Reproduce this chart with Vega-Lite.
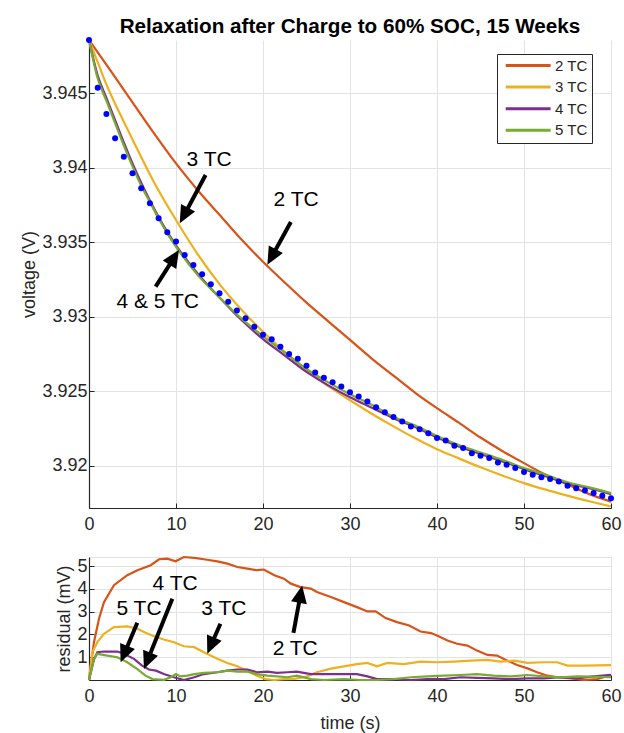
{
  "$schema": "https://vega.github.io/schema/vega-lite/v6.json",
  "autosize": {"type": "pad"},
  "padding": {"left": 20, "top": 15, "right": 0, "bottom": 0},
  "background": "white",
  "spacing": 49,
  "bounds": "flush",
  "resolve": {"scale": {"color": "independent"}},
  "config": {
    "font": "Liberation Sans",
    "view": {"stroke": null},
    "axis": {
      "labelFont": "Liberation Sans", "labelFontSize": 18, "labelColor": "#262626",
      "titleFont": "Liberation Sans", "titleFontSize": 18, "titleFontWeight": "normal", "titleColor": "#262626",
      "domainColor": "#262626", "domainWidth": 1.2, "tickColor": "#262626", "tickSize": -5,
      "gridColor": "#e3e3e3", "labelOverlap": false, "labelFlush": false
    },
    "axisX": {"labelPadding": 12.5, "titlePadding": 9},
    "axisY": {"labelPadding": 7, "titlePadding": 3}
  },
  "datasets": {
    "fits": [
      {"m": "2 TC", "t": 0, "v": 3.94858}, {"m": "2 TC", "t": 2.5, "v": 3.9465}, {"m": "2 TC", "t": 5, "v": 3.9444}, {"m": "2 TC", "t": 7.5, "v": 3.9423}, {"m": "2 TC", "t": 10, "v": 3.9403}, {"m": "2 TC", "t": 12.5, "v": 3.9385}, {"m": "2 TC", "t": 15, "v": 3.93685}, {"m": "2 TC", "t": 17.5, "v": 3.9352}, {"m": "2 TC", "t": 20, "v": 3.9337}, {"m": "2 TC", "t": 22.5, "v": 3.9323}, {"m": "2 TC", "t": 25, "v": 3.93095}, {"m": "2 TC", "t": 27.5, "v": 3.9297}, {"m": "2 TC", "t": 30, "v": 3.92845}, {"m": "2 TC", "t": 32.5, "v": 3.9272}, {"m": "2 TC", "t": 35, "v": 3.92605}, {"m": "2 TC", "t": 37.5, "v": 3.9249}, {"m": "2 TC", "t": 40, "v": 3.92387}, {"m": "2 TC", "t": 42.5, "v": 3.9229}, {"m": "2 TC", "t": 45, "v": 3.9219}, {"m": "2 TC", "t": 47.5, "v": 3.921}, {"m": "2 TC", "t": 50, "v": 3.92018}, {"m": "2 TC", "t": 52.5, "v": 3.9194}, {"m": "2 TC", "t": 55, "v": 3.91875}, {"m": "2 TC", "t": 57.5, "v": 3.9181}, {"m": "2 TC", "t": 60, "v": 3.9176},
      {"m": "3 TC", "t": 0, "v": 3.94858}, {"m": "3 TC", "t": 1, "v": 3.9471}, {"m": "3 TC", "t": 2, "v": 3.9456}, {"m": "3 TC", "t": 3, "v": 3.9443}, {"m": "3 TC", "t": 4, "v": 3.9431}, {"m": "3 TC", "t": 5, "v": 3.9419}, {"m": "3 TC", "t": 7.5, "v": 3.939}, {"m": "3 TC", "t": 10, "v": 3.9365}, {"m": "3 TC", "t": 12.5, "v": 3.9342}, {"m": "3 TC", "t": 15, "v": 3.9322}, {"m": "3 TC", "t": 17.5, "v": 3.9305}, {"m": "3 TC", "t": 20, "v": 3.929}, {"m": "3 TC", "t": 22.5, "v": 3.92765}, {"m": "3 TC", "t": 25, "v": 3.9264}, {"m": "3 TC", "t": 27.5, "v": 3.92535}, {"m": "3 TC", "t": 30, "v": 3.9244}, {"m": "3 TC", "t": 32.5, "v": 3.9235}, {"m": "3 TC", "t": 35, "v": 3.92265}, {"m": "3 TC", "t": 37.5, "v": 3.92185}, {"m": "3 TC", "t": 40, "v": 3.92112}, {"m": "3 TC", "t": 42.5, "v": 3.9205}, {"m": "3 TC", "t": 45, "v": 3.9199}, {"m": "3 TC", "t": 47.5, "v": 3.91935}, {"m": "3 TC", "t": 50, "v": 3.91884}, {"m": "3 TC", "t": 52.5, "v": 3.9184}, {"m": "3 TC", "t": 55, "v": 3.918}, {"m": "3 TC", "t": 57.5, "v": 3.91762}, {"m": "3 TC", "t": 60, "v": 3.91727},
      {"m": "4 TC", "t": 0, "v": 3.94858}, {"m": "4 TC", "t": 1, "v": 3.9462}, {"m": "4 TC", "t": 2, "v": 3.9447}, {"m": "4 TC", "t": 3, "v": 3.9432}, {"m": "4 TC", "t": 4, "v": 3.9417}, {"m": "4 TC", "t": 5, "v": 3.9403}, {"m": "4 TC", "t": 6, "v": 3.939}, {"m": "4 TC", "t": 7, "v": 3.9378}, {"m": "4 TC", "t": 8, "v": 3.9367}, {"m": "4 TC", "t": 9, "v": 3.9357}, {"m": "4 TC", "t": 10, "v": 3.9348}, {"m": "4 TC", "t": 12.5, "v": 3.9329}, {"m": "4 TC", "t": 15, "v": 3.9313}, {"m": "4 TC", "t": 17.5, "v": 3.9298}, {"m": "4 TC", "t": 20, "v": 3.9285}, {"m": "4 TC", "t": 22.5, "v": 3.9274}, {"m": "4 TC", "t": 25, "v": 3.9263}, {"m": "4 TC", "t": 27.5, "v": 3.9254}, {"m": "4 TC", "t": 30, "v": 3.9246}, {"m": "4 TC", "t": 32.5, "v": 3.9239}, {"m": "4 TC", "t": 35, "v": 3.9232}, {"m": "4 TC", "t": 37.5, "v": 3.9226}, {"m": "4 TC", "t": 40, "v": 3.9219}, {"m": "4 TC", "t": 42.5, "v": 3.9213}, {"m": "4 TC", "t": 45, "v": 3.9208}, {"m": "4 TC", "t": 47.5, "v": 3.9203}, {"m": "4 TC", "t": 50, "v": 3.91978}, {"m": "4 TC", "t": 52.5, "v": 3.9193}, {"m": "4 TC", "t": 55, "v": 3.9188}, {"m": "4 TC", "t": 57.5, "v": 3.9185}, {"m": "4 TC", "t": 60, "v": 3.9181},
      {"m": "5 TC", "t": 0, "v": 3.94858}, {"m": "5 TC", "t": 1, "v": 3.946}, {"m": "5 TC", "t": 2, "v": 3.9445}, {"m": "5 TC", "t": 3, "v": 3.943}, {"m": "5 TC", "t": 4, "v": 3.9415}, {"m": "5 TC", "t": 5, "v": 3.9401}, {"m": "5 TC", "t": 6, "v": 3.9388}, {"m": "5 TC", "t": 7, "v": 3.9377}, {"m": "5 TC", "t": 8, "v": 3.9366}, {"m": "5 TC", "t": 9, "v": 3.9356}, {"m": "5 TC", "t": 10, "v": 3.9347}, {"m": "5 TC", "t": 12.5, "v": 3.9328}, {"m": "5 TC", "t": 15, "v": 3.9313}, {"m": "5 TC", "t": 17.5, "v": 3.9299}, {"m": "5 TC", "t": 20, "v": 3.9287}, {"m": "5 TC", "t": 22.5, "v": 3.9276}, {"m": "5 TC", "t": 25, "v": 3.9265}, {"m": "5 TC", "t": 27.5, "v": 3.9256}, {"m": "5 TC", "t": 30, "v": 3.9248}, {"m": "5 TC", "t": 32.5, "v": 3.9241}, {"m": "5 TC", "t": 35, "v": 3.9233}, {"m": "5 TC", "t": 37.5, "v": 3.9227}, {"m": "5 TC", "t": 40, "v": 3.922}, {"m": "5 TC", "t": 42.5, "v": 3.9214}, {"m": "5 TC", "t": 45, "v": 3.9209}, {"m": "5 TC", "t": 47.5, "v": 3.9204}, {"m": "5 TC", "t": 50, "v": 3.91985}, {"m": "5 TC", "t": 52.5, "v": 3.9194}, {"m": "5 TC", "t": 55, "v": 3.9189}, {"m": "5 TC", "t": 57.5, "v": 3.91855}, {"m": "5 TC", "t": 60, "v": 3.91817}
    ],
    "meas": [
      {"t": 0, "v": 3.94858}, {"t": 1, "v": 3.94538}, {"t": 2, "v": 3.94361}, {"t": 3, "v": 3.94198}, {"t": 4, "v": 3.94075}, {"t": 5, "v": 3.93963}, {"t": 6, "v": 3.93863}, {"t": 7, "v": 3.93762}, {"t": 8, "v": 3.93662}, {"t": 9, "v": 3.93568}, {"t": 10, "v": 3.93505},
      {"t": 11, "v": 3.93415}, {"t": 12, "v": 3.93348}, {"t": 13, "v": 3.93286}, {"t": 14, "v": 3.93219}, {"t": 15, "v": 3.93158}, {"t": 16, "v": 3.93102}, {"t": 17, "v": 3.93042}, {"t": 18, "v": 3.92991}, {"t": 19, "v": 3.92934}, {"t": 20, "v": 3.92879},
      {"t": 21, "v": 3.9285}, {"t": 22, "v": 3.928}, {"t": 23, "v": 3.92751}, {"t": 24, "v": 3.92718}, {"t": 25, "v": 3.92671}, {"t": 26, "v": 3.92626}, {"t": 27, "v": 3.92592}, {"t": 28, "v": 3.92561}, {"t": 29, "v": 3.92532}, {"t": 30, "v": 3.92494},
      {"t": 31, "v": 3.92465}, {"t": 32, "v": 3.92431}, {"t": 33, "v": 3.92393}, {"t": 34, "v": 3.9236}, {"t": 35, "v": 3.92328}, {"t": 36, "v": 3.92297}, {"t": 37, "v": 3.92264}, {"t": 38, "v": 3.92246}, {"t": 39, "v": 3.92219}, {"t": 40, "v": 3.92186},
      {"t": 41, "v": 3.9217}, {"t": 42, "v": 3.92134}, {"t": 43, "v": 3.92119}, {"t": 44, "v": 3.92085}, {"t": 45, "v": 3.92067}, {"t": 46, "v": 3.92052}, {"t": 47, "v": 3.92022}, {"t": 48, "v": 3.92007}, {"t": 49, "v": 3.91985}, {"t": 50, "v": 3.91958},
      {"t": 51, "v": 3.9194}, {"t": 52, "v": 3.91924}, {"t": 53, "v": 3.91911}, {"t": 54, "v": 3.91895}, {"t": 55, "v": 3.91866}, {"t": 56, "v": 3.9185}, {"t": 57, "v": 3.91834}, {"t": 58, "v": 3.91817}, {"t": 59, "v": 3.91799}, {"t": 60, "v": 3.91783}
    ],
    "resid": [
      {"m": "2 TC", "t": 0, "r": 0}, {"m": "2 TC", "t": 0.57, "r": 1.66}, {"m": "2 TC", "t": 1.15, "r": 2.69}, {"m": "2 TC", "t": 1.72, "r": 3.42}, {"m": "2 TC", "t": 2.87, "r": 4.16}, {"m": "2 TC", "t": 4.4, "r": 4.6}, {"m": "2 TC", "t": 5.56, "r": 4.82}, {"m": "2 TC", "t": 7.1, "r": 5.04}, {"m": "2 TC", "t": 8.05, "r": 5.3}, {"m": "2 TC", "t": 9.0, "r": 5.33}, {"m": "2 TC", "t": 9.96, "r": 5.21}, {"m": "2 TC", "t": 10.9, "r": 5.4}, {"m": "2 TC", "t": 12.1, "r": 5.36}, {"m": "2 TC", "t": 13.2, "r": 5.3}, {"m": "2 TC", "t": 14.75, "r": 5.21}, {"m": "2 TC", "t": 15.9, "r": 5.11}, {"m": "2 TC", "t": 17.05, "r": 4.96}, {"m": "2 TC", "t": 18.2, "r": 4.89}, {"m": "2 TC", "t": 19.3, "r": 4.82}, {"m": "2 TC", "t": 20.1, "r": 4.85}, {"m": "2 TC", "t": 21.3, "r": 4.6}, {"m": "2 TC", "t": 22.4, "r": 4.45}, {"m": "2 TC", "t": 23.2, "r": 4.23}, {"m": "2 TC", "t": 24.3, "r": 4.08}, {"m": "2 TC", "t": 25.5, "r": 4.01}, {"m": "2 TC", "t": 26.2, "r": 3.86}, {"m": "2 TC", "t": 27.8, "r": 3.64}, {"m": "2 TC", "t": 29.3, "r": 3.42}, {"m": "2 TC", "t": 30.8, "r": 3.2}, {"m": "2 TC", "t": 32.0, "r": 3.01}, {"m": "2 TC", "t": 32.95, "r": 3.01}, {"m": "2 TC", "t": 34.1, "r": 2.72}, {"m": "2 TC", "t": 35.4, "r": 2.54}, {"m": "2 TC", "t": 36.8, "r": 2.39}, {"m": "2 TC", "t": 38.1, "r": 2.13}, {"m": "2 TC", "t": 39.3, "r": 2.06}, {"m": "2 TC", "t": 40.0, "r": 1.95}, {"m": "2 TC", "t": 41.2, "r": 1.73}, {"m": "2 TC", "t": 42.3, "r": 1.59}, {"m": "2 TC", "t": 43.5, "r": 1.51}, {"m": "2 TC", "t": 44.6, "r": 1.29}, {"m": "2 TC", "t": 45.8, "r": 1.1}, {"m": "2 TC", "t": 46.9, "r": 1.07}, {"m": "2 TC", "t": 48.1, "r": 0.85}, {"m": "2 TC", "t": 49.2, "r": 0.66}, {"m": "2 TC", "t": 50.4, "r": 0.51}, {"m": "2 TC", "t": 51.5, "r": 0.34}, {"m": "2 TC", "t": 52.7, "r": 0.19}, {"m": "2 TC", "t": 53.8, "r": 0.12}, {"m": "2 TC", "t": 55.4, "r": 0.07}, {"m": "2 TC", "t": 56.9, "r": 0.0}, {"m": "2 TC", "t": 58.4, "r": 0.04}, {"m": "2 TC", "t": 60, "r": 0.22},
      {"m": "3 TC", "t": 0, "r": 0}, {"m": "3 TC", "t": 0.38, "r": 1.22}, {"m": "3 TC", "t": 0.96, "r": 1.66}, {"m": "3 TC", "t": 1.72, "r": 2.03}, {"m": "3 TC", "t": 2.87, "r": 2.32}, {"m": "3 TC", "t": 4.4, "r": 2.35}, {"m": "3 TC", "t": 5.56, "r": 2.25}, {"m": "3 TC", "t": 6.5, "r": 2.07}, {"m": "3 TC", "t": 7.47, "r": 1.92}, {"m": "3 TC", "t": 8.6, "r": 1.78}, {"m": "3 TC", "t": 9.77, "r": 1.66}, {"m": "3 TC", "t": 10.9, "r": 1.48}, {"m": "3 TC", "t": 12.1, "r": 1.44}, {"m": "3 TC", "t": 13.2, "r": 1.22}, {"m": "3 TC", "t": 14.75, "r": 0.93}, {"m": "3 TC", "t": 15.9, "r": 0.75}, {"m": "3 TC", "t": 17.05, "r": 0.6}, {"m": "3 TC", "t": 18.2, "r": 0.41}, {"m": "3 TC", "t": 19.3, "r": 0.19}, {"m": "3 TC", "t": 20.3, "r": 0.04}, {"m": "3 TC", "t": 21.3, "r": 0.0}, {"m": "3 TC", "t": 22.4, "r": 0.04}, {"m": "3 TC", "t": 23.6, "r": 0.05}, {"m": "3 TC", "t": 25, "r": 0.15}, {"m": "3 TC", "t": 26.2, "r": 0.34}, {"m": "3 TC", "t": 27.8, "r": 0.5}, {"m": "3 TC", "t": 29.3, "r": 0.6}, {"m": "3 TC", "t": 30.8, "r": 0.7}, {"m": "3 TC", "t": 32.0, "r": 0.75}, {"m": "3 TC", "t": 33.1, "r": 0.6}, {"m": "3 TC", "t": 34.3, "r": 0.75}, {"m": "3 TC", "t": 36.2, "r": 0.7}, {"m": "3 TC", "t": 38.1, "r": 0.81}, {"m": "3 TC", "t": 40, "r": 0.78}, {"m": "3 TC", "t": 42, "r": 0.81}, {"m": "3 TC", "t": 43.9, "r": 0.85}, {"m": "3 TC", "t": 45.8, "r": 0.88}, {"m": "3 TC", "t": 47.3, "r": 0.81}, {"m": "3 TC", "t": 48.9, "r": 0.85}, {"m": "3 TC", "t": 50.4, "r": 0.75}, {"m": "3 TC", "t": 52.3, "r": 0.78}, {"m": "3 TC", "t": 53.8, "r": 0.78}, {"m": "3 TC", "t": 55, "r": 0.63}, {"m": "3 TC", "t": 56.9, "r": 0.63}, {"m": "3 TC", "t": 60, "r": 0.65},
      {"m": "4 TC", "t": 0, "r": 0}, {"m": "4 TC", "t": 0.57, "r": 0.9}, {"m": "4 TC", "t": 0.96, "r": 1.22}, {"m": "4 TC", "t": 1.72, "r": 1.25}, {"m": "4 TC", "t": 3.26, "r": 1.25}, {"m": "4 TC", "t": 4.0, "r": 1.15}, {"m": "4 TC", "t": 5.17, "r": 0.93}, {"m": "4 TC", "t": 6.1, "r": 0.63}, {"m": "4 TC", "t": 6.9, "r": 0.46}, {"m": "4 TC", "t": 7.7, "r": 0.41}, {"m": "4 TC", "t": 8.6, "r": 0.26}, {"m": "4 TC", "t": 9.77, "r": 0.12}, {"m": "4 TC", "t": 10.9, "r": 0.0}, {"m": "4 TC", "t": 12.1, "r": 0.12}, {"m": "4 TC", "t": 13.2, "r": 0.26}, {"m": "4 TC", "t": 14.75, "r": 0.34}, {"m": "4 TC", "t": 15.9, "r": 0.41}, {"m": "4 TC", "t": 17.05, "r": 0.46}, {"m": "4 TC", "t": 18.2, "r": 0.46}, {"m": "4 TC", "t": 19.3, "r": 0.34}, {"m": "4 TC", "t": 20.5, "r": 0.37}, {"m": "4 TC", "t": 21.6, "r": 0.31}, {"m": "4 TC", "t": 22.8, "r": 0.34}, {"m": "4 TC", "t": 23.9, "r": 0.37}, {"m": "4 TC", "t": 25.5, "r": 0.26}, {"m": "4 TC", "t": 27, "r": 0.26}, {"m": "4 TC", "t": 28.5, "r": 0.26}, {"m": "4 TC", "t": 30.8, "r": 0.26}, {"m": "4 TC", "t": 32, "r": 0.16}, {"m": "4 TC", "t": 33.1, "r": 0.04}, {"m": "4 TC", "t": 35, "r": 0.04}, {"m": "4 TC", "t": 37, "r": 0.0}, {"m": "4 TC", "t": 38.9, "r": 0.04}, {"m": "4 TC", "t": 40.8, "r": 0.04}, {"m": "4 TC", "t": 42.7, "r": 0.12}, {"m": "4 TC", "t": 44.6, "r": 0.09}, {"m": "4 TC", "t": 46.5, "r": 0.07}, {"m": "4 TC", "t": 48.5, "r": 0.04}, {"m": "4 TC", "t": 50.4, "r": 0.07}, {"m": "4 TC", "t": 52.3, "r": 0.07}, {"m": "4 TC", "t": 54.2, "r": 0.12}, {"m": "4 TC", "t": 56.1, "r": 0.07}, {"m": "4 TC", "t": 58, "r": 0.16}, {"m": "4 TC", "t": 60, "r": 0.23},
      {"m": "5 TC", "t": 0, "r": 0}, {"m": "5 TC", "t": 0.57, "r": 0.93}, {"m": "5 TC", "t": 0.96, "r": 1.15}, {"m": "5 TC", "t": 2.1, "r": 1.07}, {"m": "5 TC", "t": 3.26, "r": 1.0}, {"m": "5 TC", "t": 4.4, "r": 0.78}, {"m": "5 TC", "t": 5.56, "r": 0.48}, {"m": "5 TC", "t": 6.5, "r": 0.19}, {"m": "5 TC", "t": 7.3, "r": 0.04}, {"m": "5 TC", "t": 8.6, "r": 0.01}, {"m": "5 TC", "t": 9.4, "r": 0.12}, {"m": "5 TC", "t": 10, "r": 0.26}, {"m": "5 TC", "t": 10.5, "r": 0.16}, {"m": "5 TC", "t": 11.3, "r": 0.19}, {"m": "5 TC", "t": 12.1, "r": 0.26}, {"m": "5 TC", "t": 13.2, "r": 0.31}, {"m": "5 TC", "t": 14.75, "r": 0.34}, {"m": "5 TC", "t": 15.9, "r": 0.41}, {"m": "5 TC", "t": 17.05, "r": 0.37}, {"m": "5 TC", "t": 18.2, "r": 0.37}, {"m": "5 TC", "t": 19.3, "r": 0.26}, {"m": "5 TC", "t": 20.5, "r": 0.19}, {"m": "5 TC", "t": 21.6, "r": 0.16}, {"m": "5 TC", "t": 22.8, "r": 0.12}, {"m": "5 TC", "t": 23.9, "r": 0.19}, {"m": "5 TC", "t": 25.5, "r": 0.04}, {"m": "5 TC", "t": 27, "r": 0.0}, {"m": "5 TC", "t": 29.3, "r": 0.04}, {"m": "5 TC", "t": 31.2, "r": 0.0}, {"m": "5 TC", "t": 33.1, "r": 0.0}, {"m": "5 TC", "t": 35, "r": 0.04}, {"m": "5 TC", "t": 37, "r": 0.12}, {"m": "5 TC", "t": 38.9, "r": 0.16}, {"m": "5 TC", "t": 40.8, "r": 0.19}, {"m": "5 TC", "t": 42.7, "r": 0.22}, {"m": "5 TC", "t": 44.6, "r": 0.26}, {"m": "5 TC", "t": 46.5, "r": 0.19}, {"m": "5 TC", "t": 48.5, "r": 0.16}, {"m": "5 TC", "t": 50.4, "r": 0.22}, {"m": "5 TC", "t": 52.3, "r": 0.16}, {"m": "5 TC", "t": 54.2, "r": 0.12}, {"m": "5 TC", "t": 56.1, "r": 0.16}, {"m": "5 TC", "t": 58, "r": 0.15}, {"m": "5 TC", "t": 60, "r": 0.12}
    ],
    "txtTop": [
      {"label": "3 TC", "t": 13.8, "v": 3.94052},
      {"label": "2 TC", "t": 23.8, "v": 3.93784},
      {"label": "4 & 5 TC", "t": 7.9, "v": 3.93102}
    ],
    "arrTop": [
      {"t0": 13.4, "v0": 3.93952, "t1": 10.43, "v1": 3.93628},
      {"t0": 23.2, "v0": 3.93637, "t1": 20.5, "v1": 3.9335},
      {"t0": 7.66, "v0": 3.93203, "t1": 10.34, "v1": 3.93449}
    ],
    "txtBot": [
      {"label": "5 TC", "t": 5.75, "r": 3.13},
      {"label": "4 TC", "t": 9.9, "r": 4.23},
      {"label": "3 TC", "t": 15.5, "r": 3.13},
      {"label": "2 TC", "t": 23.7, "r": 1.37}
    ],
    "arrBot": [
      {"t0": 5.55, "r0": 2.51, "t1": 3.64, "r1": 0.78},
      {"t0": 9.58, "r0": 3.57, "t1": 6.32, "r1": 0.48},
      {"t0": 15.1, "r0": 2.47, "t1": 13.6, "r1": 1.15},
      {"t0": 23.5, "r0": 2.07, "t1": 24.5, "r1": 4.15}
    ]
  },
  "vconcat": [
    {
      "width": 522,
      "height": 468,
      "title": {"text": "Relaxation after Charge to 60% SOC, 15 Weeks", "font": "Liberation Sans", "fontSize": 20.7, "fontWeight": "bold", "color": "#000000", "anchor": "middle", "offset": -2},
      "layer": [
        {
          "data": {"name": "fits"},
          "mark": {"type": "line", "strokeWidth": 2.2, "interpolate": "monotone"},
          "encoding": {
            "x": {"field": "t", "type": "quantitative", "scale": {"domain": [0, 60], "nice": false}, "axis": {"title": null, "values": [0, 10, 20, 30, 40, 50, 60]}},
            "y": {"field": "v", "type": "quantitative", "scale": {"domain": [3.91717, 3.94858], "nice": false, "zero": false}, "axis": {"title": "voltage (V)", "values": [3.92, 3.925, 3.93, 3.935, 3.94, 3.945], "format": "~g"}},
            "color": {
              "field": "m", "type": "nominal",
              "scale": {"domain": ["2 TC", "3 TC", "4 TC", "5 TC"], "range": ["#D95319", "#EDB120", "#7E2F8E", "#77AC30"]},
              "legend": {"title": null, "orient": "none", "legendX": 408, "legendY": 14, "symbolType": "M-0.5,0 L7.5,0", "symbolSize": 126, "symbolStrokeWidth": 3, "symbolFillColor": "transparent", "labelFont": "Liberation Sans", "labelFontSize": 15, "labelColor": "#262626", "labelOffset": 39, "strokeColor": "#262626", "fillColor": "white", "padding": 4, "rowPadding": 5.6}
            }
          }
        },
        {
          "data": {"name": "meas"},
          "mark": {"type": "point", "filled": true, "color": "#0000FF", "size": 36, "opacity": 1},
          "encoding": {
            "x": {"field": "t", "type": "quantitative", "axis": {"title": null, "values": [0, 10, 20, 30, 40, 50, 60]}},
            "y": {"field": "v", "type": "quantitative", "axis": {"title": "voltage (V)", "values": [3.92, 3.925, 3.93, 3.935, 3.94, 3.945], "format": "~g"}}
          }
        },
        {
          "data": {"name": "arrTop"},
          "transform": [
            {"calculate": "(datum.t1 - datum.t0) * 8.7", "as": "dx"},
            {"calculate": "-(datum.v1 - datum.v0) * 14900", "as": "dy"},
            {"calculate": "sqrt(datum.dx * datum.dx + datum.dy * datum.dy)", "as": "len"},
            {"calculate": "datum.t1 - 12 * datum.dx / datum.len / 8.7", "as": "te"},
            {"calculate": "datum.v1 + 12 * datum.dy / datum.len / 14900", "as": "ve"}
          ],
          "mark": {"type": "rule", "strokeWidth": 4, "color": "#000000"},
          "encoding": {
            "x": {"field": "t0", "type": "quantitative", "axis": {"title": null, "values": [0, 10, 20, 30, 40, 50, 60]}},
            "y": {"field": "v0", "type": "quantitative", "axis": {"title": "voltage (V)", "values": [3.92, 3.925, 3.93, 3.935, 3.94, 3.945], "format": "~g"}},
            "x2": {"field": "te"},
            "y2": {"field": "ve"}
          }
        },
        {
          "data": {"name": "arrTop"},
          "transform": [
            {"calculate": "(datum.t1 - datum.t0) * 8.7", "as": "dx"},
            {"calculate": "-(datum.v1 - datum.v0) * 14900", "as": "dy"},
            {"calculate": "atan2(datum.dx, -datum.dy) * 180 / PI", "as": "ang"}
          ],
          "mark": {"type": "point", "shape": "M0,0 L1,2.2 L-1,2.2 Z", "filled": true, "color": "#000000", "size": 256, "opacity": 1, "strokeWidth": 0},
          "encoding": {
            "x": {"field": "t1", "type": "quantitative", "axis": {"title": null, "values": [0, 10, 20, 30, 40, 50, 60]}},
            "y": {"field": "v1", "type": "quantitative", "axis": {"title": "voltage (V)", "values": [3.92, 3.925, 3.93, 3.935, 3.94, 3.945], "format": "~g"}},
            "angle": {"field": "ang", "type": "quantitative", "scale": null}
          }
        },
        {
          "data": {"name": "txtTop"},
          "mark": {"type": "text", "font": "Liberation Sans", "fontSize": 21, "color": "#000000", "align": "center", "baseline": "middle"},
          "encoding": {
            "x": {"field": "t", "type": "quantitative", "axis": {"title": null, "values": [0, 10, 20, 30, 40, 50, 60]}},
            "y": {"field": "v", "type": "quantitative", "axis": {"title": "voltage (V)", "values": [3.92, 3.925, 3.93, 3.935, 3.94, 3.945], "format": "~g"}},
            "text": {"field": "label"}
          }
        }
      ]
    },
    {
      "width": 522,
      "height": 123,
      "view": {"stroke": "#e3e3e3"},
      "layer": [
        {
          "data": {"name": "resid"},
          "mark": {"type": "line", "strokeWidth": 2.2},
          "encoding": {
            "x": {"field": "t", "type": "quantitative", "scale": {"domain": [0, 60], "nice": false}, "axis": {"title": "time (s)", "values": [0, 10, 20, 30, 40, 50, 60]}},
            "y": {"field": "r", "type": "quantitative", "scale": {"domain": [0, 5.4], "nice": false}, "axis": {"title": "residual (mV)", "values": [1, 2, 3, 4, 5]}},
            "color": {
              "field": "m", "type": "nominal",
              "scale": {"domain": ["2 TC", "3 TC", "4 TC", "5 TC"], "range": ["#D95319", "#EDB120", "#7E2F8E", "#77AC30"]},
              "legend": null
            }
          }
        },
        {
          "data": {"name": "arrBot"},
          "transform": [
            {"calculate": "(datum.t1 - datum.t0) * 8.7", "as": "dx"},
            {"calculate": "-(datum.r1 - datum.r0) * 22.78", "as": "dy"},
            {"calculate": "sqrt(datum.dx * datum.dx + datum.dy * datum.dy)", "as": "len"},
            {"calculate": "datum.t1 - 12 * datum.dx / datum.len / 8.7", "as": "te"},
            {"calculate": "datum.r1 + 12 * datum.dy / datum.len / 22.78", "as": "re"}
          ],
          "mark": {"type": "rule", "strokeWidth": 4, "color": "#000000"},
          "encoding": {
            "x": {"field": "t0", "type": "quantitative", "axis": {"title": "time (s)", "values": [0, 10, 20, 30, 40, 50, 60]}},
            "y": {"field": "r0", "type": "quantitative", "axis": {"title": "residual (mV)", "values": [1, 2, 3, 4, 5]}},
            "x2": {"field": "te"},
            "y2": {"field": "re"}
          }
        },
        {
          "data": {"name": "arrBot"},
          "transform": [
            {"calculate": "(datum.t1 - datum.t0) * 8.7", "as": "dx"},
            {"calculate": "-(datum.r1 - datum.r0) * 22.78", "as": "dy"},
            {"calculate": "atan2(datum.dx, -datum.dy) * 180 / PI", "as": "ang"}
          ],
          "mark": {"type": "point", "shape": "M0,0 L1,2.2 L-1,2.2 Z", "filled": true, "color": "#000000", "size": 256, "opacity": 1, "strokeWidth": 0},
          "encoding": {
            "x": {"field": "t1", "type": "quantitative", "axis": {"title": "time (s)", "values": [0, 10, 20, 30, 40, 50, 60]}},
            "y": {"field": "r1", "type": "quantitative", "axis": {"title": "residual (mV)", "values": [1, 2, 3, 4, 5]}},
            "angle": {"field": "ang", "type": "quantitative", "scale": null}
          }
        },
        {
          "data": {"name": "txtBot"},
          "mark": {"type": "text", "font": "Liberation Sans", "fontSize": 21, "color": "#000000", "align": "center", "baseline": "middle"},
          "encoding": {
            "x": {"field": "t", "type": "quantitative", "axis": {"title": "time (s)", "values": [0, 10, 20, 30, 40, 50, 60]}},
            "y": {"field": "r", "type": "quantitative", "axis": {"title": "residual (mV)", "values": [1, 2, 3, 4, 5]}},
            "text": {"field": "label"}
          }
        }
      ]
    }
  ]
}
